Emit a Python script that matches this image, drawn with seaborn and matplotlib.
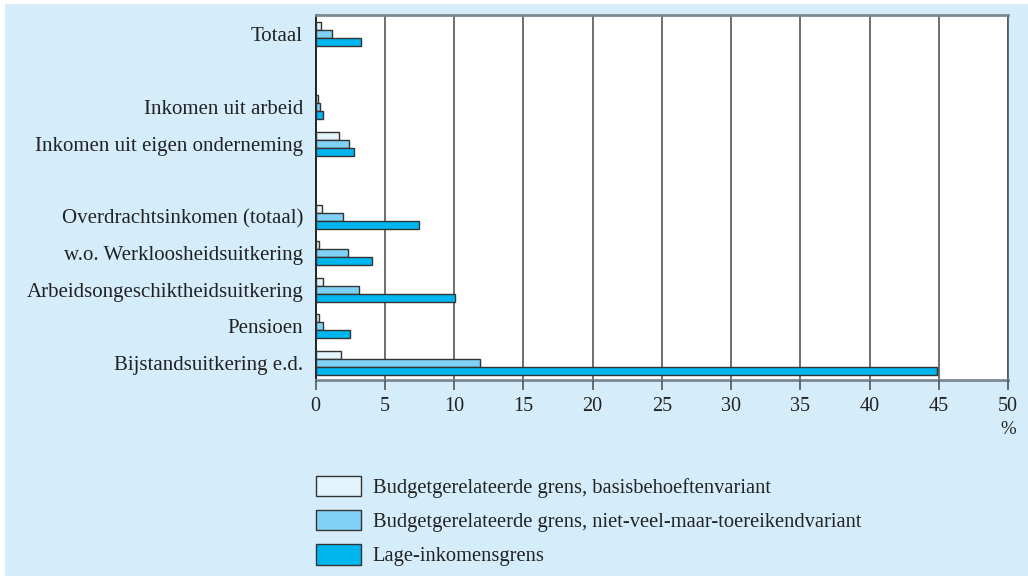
import matplotlib
matplotlib.use("Agg")
import matplotlib.pyplot as plt
from matplotlib.patches import Rectangle
import seaborn as sns
import pandas as pd

categories = ["Totaal", " ", "Inkomen uit arbeid", "Inkomen uit eigen onderneming", "  ",
              "Overdrachtsinkomen (totaal)", "w.o. Werkloosheidsuitkering",
              "Arbeidsongeschiktheidsuitkering", "Pensioen", "Bijstandsuitkering e.d."]
data_categories = ["Totaal", "Inkomen uit arbeid", "Inkomen uit eigen onderneming",
                   "Overdrachtsinkomen (totaal)", "w.o. Werkloosheidsuitkering",
                   "Arbeidsongeschiktheidsuitkering", "Pensioen", "Bijstandsuitkering e.d."]
series = ["Budgetgerelateerde grens, basisbehoeftenvariant",
          "Budgetgerelateerde grens, niet-veel-maar-toereikendvariant",
          "Lage-inkomensgrens"]
basis = [0.4, 0.14, 1.7, 0.43, 0.24, 0.5, 0.24, 1.8]
nietveel = [1.15, 0.3, 2.42, 2.0, 2.34, 3.16, 0.57, 11.9]
lage = [3.3, 0.57, 2.8, 7.46, 4.09, 10.05, 2.49, 44.9]
xticks = [0, 5, 10, 15, 20, 25, 30, 35, 40, 45, 50]

colors = ["#E3F4FC", "#7FD2F6", "#00B6EF"]

rows = []
for s, vals in zip(series, [basis, nietveel, lage]):
    for c, v in zip(data_categories, vals):
        rows.append({"cat": c, "series": s, "value": v})
df = pd.DataFrame(rows)

sns.set_style("white")
plt.rcParams["font.family"] = ["Liberation Serif", "DejaVu Serif"]

W, H = 1028, 576
fig = plt.figure(figsize=(W / 100, H / 100), dpi=100)
fig.patch.set_facecolor("white")
fig.patches.append(Rectangle((5 / W, 0), 1 - 5 / W, 1 - 4 / H, transform=fig.transFigure,
                             facecolor="#D5EDFA", edgecolor="none", zorder=-10))

ax = fig.add_axes([315.6 / W, 1 - 380 / H, (1008 - 315.6) / W, (380 - 15) / H])
ax.set_facecolor("white")

sns.barplot(data=df, y="cat", x="value", hue="series", order=categories,
            hue_order=series, palette=colors, saturation=1, width=0.66,
            edgecolor="#333333", linewidth=1.0, orient="h", errorbar=None, ax=ax, zorder=3)

ax.set_xlim(0, 50)
ax.set_ylim(9.47, -0.52)
ax.set_xticks(xticks)
ax.set_xticklabels([str(t) for t in xticks])
ax.set_xlabel("")
ax.set_ylabel("")
ax.tick_params(axis="x", direction="out", length=7, width=1.2, color="#555555",
               labelsize=14.5, pad=5, bottom=True, labelcolor="#222222")
ax.tick_params(axis="y", length=0, labelsize=15, pad=9, labelcolor="#222222")
for lbl in ax.get_yticklabels():
    lbl.set_verticalalignment("center_baseline")

for t in xticks[1:]:
    ax.axvline(t, color="#555555", lw=1.2, zorder=1)

for side in ["top", "bottom"]:
    ax.spines[side].set_visible(True)
    ax.spines[side].set_color("#7B8A92")
    ax.spines[side].set_linewidth(2)
ax.spines["left"].set_visible(True)
ax.spines["left"].set_color("#111111")
ax.spines["left"].set_linewidth(1.3)
ax.spines["right"].set_visible(True)
ax.spines["right"].set_color("#555555")
ax.spines["right"].set_linewidth(1.2)
ax.set_axisbelow(False)

fig.text(1008 / W, 1 - 430 / H, "%", ha="center", va="center", fontsize=13.5, color="#222222")

handles, labels = ax.get_legend_handles_labels()
if ax.legend_:
    ax.legend_.remove()
fig.legend(handles, labels, loc="upper left", bbox_to_anchor=(315.5 / W, 1 - 476 / H),
           frameon=False, fontsize=14.8, handlelength=2.23, handleheight=1.15,
           labelspacing=0.58, handletextpad=0.55, borderaxespad=0, borderpad=0,
           labelcolor="#222222")

fig.savefig("out.png", dpi=100, facecolor=fig.get_facecolor())
